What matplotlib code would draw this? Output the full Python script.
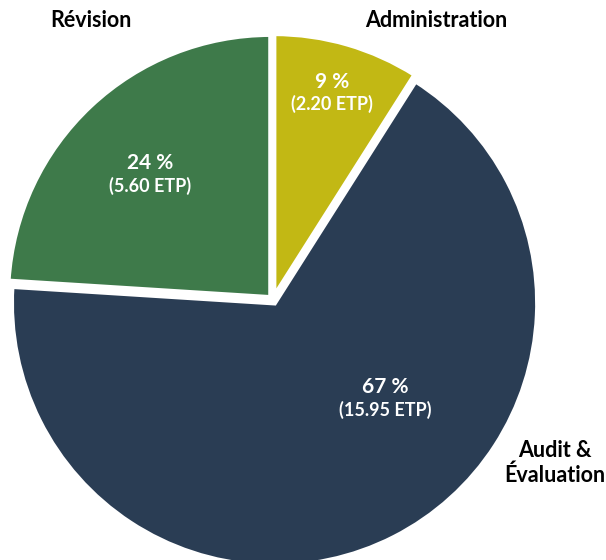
import matplotlib
matplotlib.use("Agg")
import matplotlib.pyplot as plt

categories = ["Administration", "Audit &\nÉvaluation", "Révision"]
pct = [9, 67, 24]
pct_labels = ["9 %", "67 %", "24 %"]
etp_labels = ["(2.20 ETP)", "(15.95 ETP)", "(5.60 ETP)"]
colors = ["#c2b814", "#2a3d54", "#3e7a4a"]

plt.rcParams['font.family'] = ['Lato', 'DejaVu Sans']

W, H = 606, 560
fig = plt.figure(figsize=(W / 100, H / 100), dpi=100)
cx, cy, R = 273, 260, 263
ax = fig.add_axes([(cx - R) / W, (cy - R) / H, 2 * R / W, 2 * R / H])

wedges, _ = ax.pie(pct, colors=colors, startangle=90, counterclock=False,
                   explode=[0.013, 0.013, 0.013], radius=1.0,
                   wedgeprops=dict(edgecolor='white', linewidth=3.5, joinstyle='miter'))
for w in wedges:
    w.set_clip_on(False)
ax.set_xlim(-1, 1)
ax.set_ylim(-1, 1)
ax.set_aspect('equal')
ax.axis('off')

# percent + ETP labels (data coords)
pct_pos = [(0.224, 0.829, 0.745), (0.426, -0.331, -0.418), (-0.468, 0.521, 0.433)]
for (x, y1, y2), p, e in zip(pct_pos, pct_labels, etp_labels):
    ax.text(x, y1, p, ha='center', va='center', color='white', fontsize=15, fontweight='bold')
    ax.text(x, y2, e, ha='center', va='center', color='white', fontsize=13, fontweight='bold')

cat_pos = [(0.620, 1.061), (1.07, -0.62), (-0.692, 1.061)]
for (x, y), c in zip(cat_pos, categories):
    ax.text(x, y, c, ha='center', va='center', color='black', fontsize=15.5,
            fontweight='bold', linespacing=1.25)

fig.savefig("out.png", dpi=100)
